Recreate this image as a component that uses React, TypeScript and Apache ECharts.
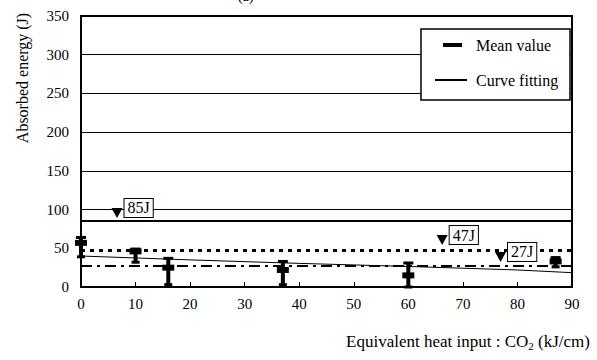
import React, { useEffect, useRef } from "react";
import * as echarts from "echarts";

// Impact test results: x = equivalent heat input (kJ/cm), y = absorbed energy (J)
const xTicks = [0, 10, 20, 30, 40, 50, 60, 70, 80, 90];
const yTicks = [0, 50, 100, 150, 200, 250, 300, 350];
const gridValues = [100, 150, 200, 250, 300];

// Measured points: heat input, mean, lowest, highest
const heatInput = [0, 10, 16, 37, 60, 87];
const meanEnergy = [57, 46, 25, 22, 15, 33];
const minEnergy = [39, 32, 3, 3, 0, 26];
const maxEnergy = [64, 49, 37, 33, 31, 38];

// Fitted curve through the results
const fitX = [0, 20, 40, 60, 80, 90];
const fitY = [40, 35, 30.5, 26.5, 22, 18.5];

// Required energy levels and their markers
const levelValues = [85, 47, 27];
const levelMarkerX = [6.6, 66.2, 76.9];
const levelMarkerY = [95.6, 60.7, 38.8];

const FONT = "serif";

export default function App() {
  const ref = useRef<HTMLDivElement>(null);

  useEffect(() => {
    if (!ref.current) return;
    const chart = echarts.init(ref.current, null, { renderer: "svg" });

    const errData = heatInput.map((x, i) => [x, meanEnergy[i], minEnergy[i], maxEnergy[i]]);
    const levelStyles: any[] = [
      { type: "solid", width: 2 },
      { type: [4, 5], width: 3 },
      { type: [11, 5, 3, 5], width: 2 },
    ];

    chart.setOption({
      animation: false,
      textStyle: { fontFamily: FONT },
      grid: {
        left: 81,
        top: 16,
        right: 25,
        bottom: 73,
        show: true,
        borderColor: "#000",
        borderWidth: 2,
        backgroundColor: "#fff",
      },
      xAxis: {
        type: "value",
        min: xTicks[0],
        max: xTicks[xTicks.length - 1],
        interval: 10,
        name: "{n|Equivalent heat input : CO}{s|2}{n| (kJ/cm)}",
        nameLocation: "end",
        nameGap: 0,
        nameTextStyle: {
          align: "right",
          verticalAlign: "top",
          fontFamily: FONT,
          padding: [44, -18, 0, 0],
          rich: {
            n: { fontFamily: FONT, fontSize: 17, color: "#000" },
            s: { fontFamily: FONT, fontSize: 11, color: "#000", verticalAlign: "bottom", padding: [9, 0, 0, 0] },
          },
        },
        axisLine: { show: true, lineStyle: { color: "#000", width: 2 } },
        axisTick: { show: true, inside: true, length: 5, lineStyle: { color: "#000", width: 1 } },
        axisLabel: { color: "#000", fontFamily: FONT, fontSize: 15, margin: 9 },
        splitLine: { show: false },
      },
      yAxis: {
        type: "value",
        min: yTicks[0],
        max: yTicks[yTicks.length - 1],
        interval: 50,
        axisLine: { show: true, lineStyle: { color: "#000", width: 2 } },
        axisTick: { show: false },
        axisLabel: { color: "#000", fontFamily: FONT, fontSize: 15, margin: 12 },
        splitLine: { show: false },
      },
      series: [
        {
          type: "line",
          data: fitX.map((x, i) => [x, fitY[i]]),
          showSymbol: false,
          lineStyle: { color: "#000", width: 1 },
          z: 3,
          markLine: {
            silent: true,
            symbol: "none",
            label: { show: false },
            data: gridValues.map((v) => ({ yAxis: v, lineStyle: { color: "#000", width: 1, type: "solid" } })),
          },
        },
        {
          type: "line",
          data: [],
          markLine: {
            silent: true,
            symbol: "none",
            label: { show: false },
            data: levelValues.map((v, i) => ({
              yAxis: v,
              lineStyle: { color: "#000", ...levelStyles[i] },
            })),
          },
        },
        {
          type: "custom",
          clip: false,
          z: 5,
          data: errData,
          renderItem: (_params: any, api: any) => {
            const x = api.value(0);
            const pM = api.coord([x, api.value(1)]);
            const pLo = api.coord([x, api.value(2)]);
            const pHi = api.coord([x, api.value(3)]);
            return {
              type: "group",
              children: [
                {
                  type: "line",
                  shape: { x1: pHi[0], y1: pHi[1], x2: pLo[0], y2: pLo[1] },
                  style: { stroke: "#000", lineWidth: 4 },
                },
                {
                  type: "line",
                  shape: { x1: pHi[0] - 5, y1: pHi[1], x2: pHi[0] + 5, y2: pHi[1] },
                  style: { stroke: "#000", lineWidth: 3 },
                },
                {
                  type: "line",
                  shape: { x1: pLo[0] - 4, y1: pLo[1], x2: pLo[0] + 4, y2: pLo[1] },
                  style: { stroke: "#000", lineWidth: 3 },
                },
                {
                  type: "rect",
                  shape: { x: pM[0] - 6, y: pM[1] - 3, width: 12, height: 6 },
                  style: { fill: "#000" },
                },
              ],
            };
          },
        },
        {
          type: "scatter",
          z: 6,
          symbol: "triangle",
          symbolRotate: 180,
          symbolSize: [11, 10],
          itemStyle: { color: "#000", opacity: 1 },
          data: levelMarkerX.map((x, i) => ({
            value: [x, levelMarkerY[i]],
            label: { formatter: `${levelValues[i]}J` },
          })),
          label: {
            show: true,
            position: "right",
            distance: 2,
            offset: [0, -5],
            fontFamily: FONT,
            fontSize: 16,
            color: "#000",
            backgroundColor: "#fff",
            borderColor: "#000",
            borderWidth: 1,
            padding: [2, 3, 0, 3],
          },
        },
      ],
      graphic: [
        {
          type: "text",
          x: 238,
          y: -11,
          style: { text: "(a)", fontFamily: FONT, fontSize: 14, fill: "#000" },
        },
        {
          type: "text",
          x: 22,
          y: 78,
          rotation: Math.PI / 2,
          style: {
            text: "Absorbed energy (J)",
            fontFamily: FONT,
            fontSize: 16,
            fill: "#000",
            align: "center",
            verticalAlign: "middle",
          },
        },
        {
          type: "rect",
          shape: { x: 421, y: 29, width: 149, height: 71 },
          style: { fill: "#fff", stroke: "#000", lineWidth: 1.5 },
          z: 10,
        },
        {
          type: "rect",
          shape: { x: 443, y: 43, width: 19, height: 4 },
          style: { fill: "#000" },
          z: 11,
        },
        {
          type: "line",
          shape: { x1: 435, y1: 80, x2: 467, y2: 80 },
          style: { stroke: "#000", lineWidth: 2 },
          z: 11,
        },
        {
          type: "text",
          x: 476,
          y: 45,
          style: { text: "Mean value", fontFamily: FONT, fontSize: 16, fill: "#000", verticalAlign: "middle" },
          z: 11,
        },
        {
          type: "text",
          x: 476,
          y: 80,
          style: { text: "Curve fitting", fontFamily: FONT, fontSize: 16, fill: "#000", verticalAlign: "middle" },
          z: 11,
        },
      ],
    });

    return () => chart.dispose();
  }, []);

  return (
    <div
      ref={ref}
      style={{ width: 597, height: 360, position: "absolute", left: 0, top: 0, background: "#fff" }}
    />
  );
}
